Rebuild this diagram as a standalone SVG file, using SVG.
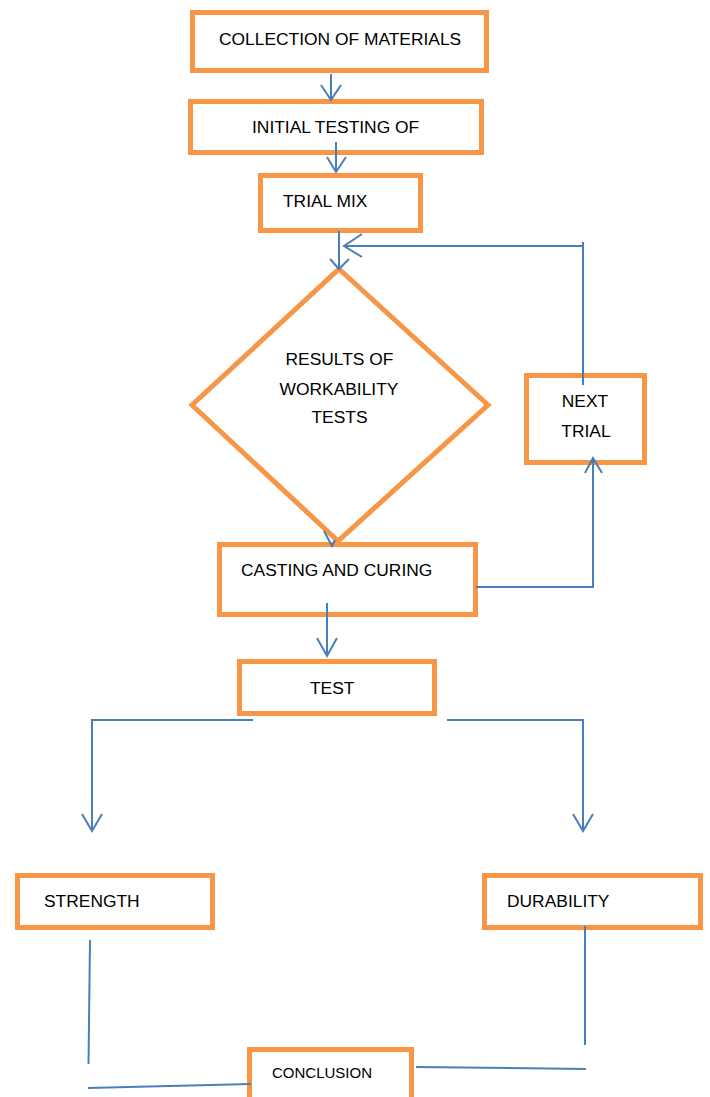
<svg xmlns="http://www.w3.org/2000/svg" width="710" height="1097" viewBox="0 0 710 1097">
<style>
.box{fill:#fff;stroke:#F79646;stroke-width:5}
.t{font-family:"Liberation Sans",Arial,sans-serif;font-size:17.4px;fill:#000}
.c{text-anchor:middle}
.ln{fill:none;stroke:#4A7EBB;stroke-width:2}
</style>
<rect width="710" height="1097" fill="#fff"/>
<g id="n1"><rect class="box" x="192.5" y="12.5" width="294" height="58"/><text class="t" x="219" y="45">COLLECTION OF MATERIALS</text></g>
<g id="n2"><rect class="box" x="190.5" y="101.5" width="291" height="51"/><text class="t" x="252" y="133">INITIAL TESTING OF</text></g>
<g id="n3"><rect class="box" x="260.5" y="175.5" width="160" height="55"/><text class="t" x="283" y="207">TRIAL MIX</text></g>
<g id="n4"><polygon class="box" points="339,269 488,405 338,541 192,405"/><text class="t c" x="339.5" y="365">RESULTS OF</text><text class="t c" x="339" y="395">WORKABILITY</text><text class="t c" x="339.5" y="423">TESTS</text></g>
<g id="n5"><rect class="box" x="526.5" y="375.5" width="118" height="87"/><text class="t c" x="585" y="407">NEXT</text><text class="t c" x="586" y="437">TRIAL</text></g>
<g id="n6"><rect class="box" x="219.5" y="544.5" width="256" height="70"/><text class="t" x="241" y="576">CASTING AND CURING</text></g>
<g id="n7"><rect class="box" x="239.5" y="661.5" width="195" height="52"/><text class="t" x="310" y="694">TEST</text></g>
<g id="n8"><rect class="box" x="17.5" y="875.5" width="195" height="52"/><text class="t" x="44" y="907">STRENGTH</text></g>
<g id="n9"><rect class="box" x="484.5" y="875.5" width="216" height="52"/><text class="t" x="507" y="907">DURABILITY</text></g>
<g id="n10"><rect class="box" x="249.5" y="1049.5" width="162" height="60"/><text class="t" x="272" y="1078" style="font-size:15px">CONCLUSION</text></g>
<g id="connectors">
<path class="ln" d="M331,74V100M321,85L331,100L341,85"/>
<path class="ln" d="M336,142V172M327,157L336,172L346,157"/>
<path class="ln" d="M339,231V269M330,259L339,269L349,259"/>
<path class="ln" d="M583,385V242M583,246H344M362,234L344,246L362,257"/>
<path class="ln" d="M476,587H593V458M585,473L593,458L602,473"/>
<path class="ln" d="M324,531L332,546L335,540"/>
<path class="ln" d="M327,603V656M317,638L327,656L337,638"/>
<path class="ln" d="M253,720H92V831M82,814L92,831L102,814"/>
<path class="ln" d="M447,720H583V831M573,814L583,831L593,814"/>
<path class="ln" d="M90,940L88.5,1064"/>
<path class="ln" d="M585,926V1045"/>
<path class="ln" d="M88,1088L251,1084"/>
<path class="ln" d="M416,1067L586,1069"/>
</g>
</svg>
